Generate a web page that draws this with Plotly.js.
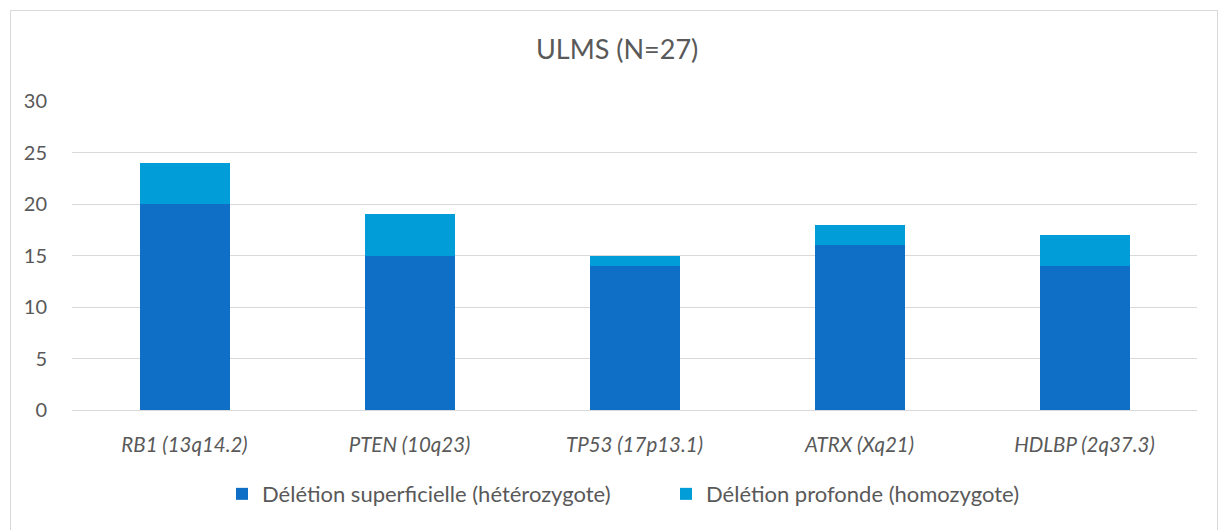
<!DOCTYPE html>
<html>
<head>
<meta charset="utf-8">
<script src="https://cdn.plot.ly/plotly-3.0.1.min.js"></script>
<style>
body{margin:0;padding:0;background:#fff;}
#wrap{position:relative;width:1222px;height:530px;}
#chart{width:1222px;height:530px;}
#frame{position:absolute;left:10px;top:10px;width:1206px;height:530px;border:1px solid #d9d9d9;pointer-events:none;}
</style>
</head>
<body>
<div id="wrap"><div id="chart"></div><div id="frame"></div></div>
<script>
const categories = ["RB1 (13q14.2)", "PTEN (10q23)", "TP53 (17p13.1)", "ATRX (Xq21)", "HDLBP (2q37.3)"];
const superficielle = [20, 15, 14, 16, 14];
const profonde = [4, 4, 1, 2, 3];
const seriesNames = ["Délétion superficielle (hétérozygote)", "Délétion profonde (homozygote)"];
const yTicks = [0, 5, 10, 15, 20, 25, 30];

const fontFam = "Lato, 'Open Sans', sans-serif";
const grey = "#595959";

const traces = [
  {type: "bar", x: categories, y: superficielle, name: seriesNames[0],
   marker: {color: "#0F6FC6", line: {width: 0}}, hoverinfo: "y"},
  {type: "bar", x: categories, y: profonde, name: seriesNames[1],
   marker: {color: "#009DD9", line: {width: 0}}, hoverinfo: "y"}
];

const layout = {
  width: 1222, height: 530,
  barmode: "stack",
  bargap: 0.6,
  paper_bgcolor: "#fff", plot_bgcolor: "#fff",
  margin: {l: 72, r: 25, t: 101, b: 120},
  font: {family: fontFam, color: grey, size: 20},
  title: {text: "ULMS (N=27)", x: 0.505, xanchor: "center", y: 0.906, yanchor: "middle",
          font: {family: fontFam, size: 27, color: grey}},
  xaxis: {
    tickfont: {family: fontFam, size: 20.5, color: grey, style: "italic"},
    showgrid: false, showline: true, linecolor: "#d9d9d9", linewidth: 1,
    ticks: "", ticklabelstandoff: 16, fixedrange: true
  },
  yaxis: {
    range: [0, 30], tickvals: yTicks, ticktext: yTicks.map(String),
    showgrid: true, gridcolor: "#d9d9d9", gridwidth: 1,
    zeroline: false, showline: false, ticks: "",
    tickfont: {family: fontFam, size: 20, color: grey},
    ticklabelstandoff: 24, fixedrange: true
  },
  showlegend: true,
  legend: {orientation: "h", x: (222 - 72) / 1125, xanchor: "left", y: -0.272, yanchor: "middle",
           font: {family: fontFam, size: 22, color: grey}, traceorder: "normal",
           itemwidth: 30, entrywidth: 399}
};

Plotly.newPlot("chart", traces, layout, {displayModeBar: false, staticPlot: true});
</script>
</body>
</html>
